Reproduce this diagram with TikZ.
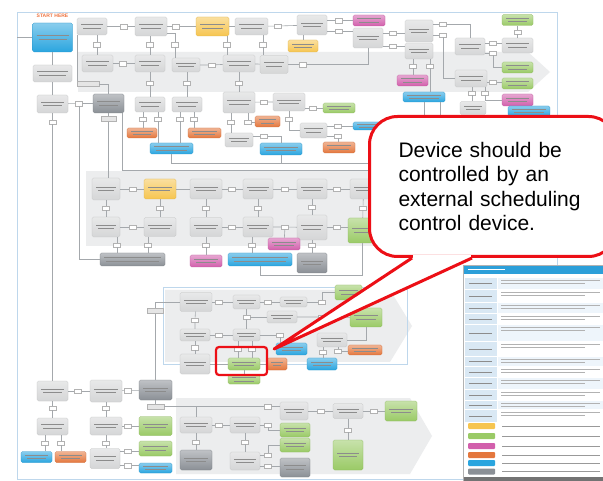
\documentclass[tikz,border=0pt]{standalone}
\usepackage{fontspec}
\newfontfamily\notefont{Liberation Sans}
\usetikzlibrary{arrows.meta, positioning, calc}
\definecolor{gbox}{HTML}{D5D6D7}
\definecolor{dbox}{HTML}{8B9096}
\definecolor{bbox}{HTML}{2AA5DF}
\definecolor{obox}{HTML}{E4773D}
\definecolor{ybox}{HTML}{F6C550}
\definecolor{vbox}{HTML}{9ACA66}
\definecolor{pbox}{HTML}{D25FAC}
\definecolor{bandgray}{HTML}{ECEDEE}
\definecolor{wiregray}{HTML}{A4A8AC}
\definecolor{frameblue}{HTML}{BED7EC}
\definecolor{notered}{HTML}{EC0F16}
\definecolor{startorange}{HTML}{EF7440}
\definecolor{tabhead}{HTML}{2C9FD9}
\definecolor{tabsoft}{HTML}{D9E8F4}
\definecolor{tabpale}{HTML}{EEF5FB}
\tikzset{
  >=Latex,
  bx/.style={
    rounded corners=1.5pt, top color=#1!55!white, bottom color=#1,
    draw=#1!90!black, line width=0.25pt, inner sep=0pt,
    path picture={
      \draw[black!45, line width=0.8pt]
        ([xshift=4pt,yshift=1.8pt]path picture bounding box.west) -- ([xshift=-4pt,yshift=1.8pt]path picture bounding box.east)
        ([xshift=6pt,yshift=-1.8pt]path picture bounding box.west) -- ([xshift=-6pt,yshift=-1.8pt]path picture bounding box.east);
    }
  },
  bx/.default=gbox,
  wh/.style 2 args={minimum width=#1pt, minimum height=#2pt},
  tg/.style={draw=black!30, fill=white, inner sep=0pt, line width=0.3pt,
    minimum width=7pt, minimum height=4.5pt},
  lbl/.style={draw=black!30, fill=black!10, inner sep=0pt, line width=0.3pt, minimum height=5pt},
  wire/.style={draw=wiregray, line width=0.6pt},
  hilite/.style={draw=notered, line width=2.2pt, rounded corners=3pt, inner sep=0pt},
  note/.style={draw=notered, fill=white, line width=3pt, rounded corners=28pt,
    inner xsep=29pt, text width=189pt, minimum height=140pt, align=left,
    font=\notefont\fontsize{21}{24.5}\selectfont},
  pointer/.style={draw=notered, line width=3pt, line join=round}
}
\begin{document}
\begin{tikzpicture}[x=1pt, y=-1pt]
  \useasboundingbox (0,0) rectangle (603,481);
  \fill[white] (0,0) rectangle (603,481);

  % bands behind the flow rows
  \fill[bandgray] (78,52) -- (528,52) -- (550,72) -- (528,92) -- (78,92) -- cycle;
  \fill[bandgray] (86,171) rectangle (400,246);
  \fill[bandgray] (165,290) -- (390,290) -- (412,326) -- (390,362) -- (165,362) -- cycle;
  \draw[frameblue, line width=0.5pt] (163,287) rectangle (407,364);
  \fill[bandgray] (176,398) -- (410,398) -- (432,436) -- (410,474) -- (176,474) -- cycle;
  \draw[frameblue, line width=0.6pt] (17,12) rectangle (557,479);

  % top row
  \node[text=startorange, font=\notefont\bfseries\fontsize{5}{6}\selectfont] (starthere) at (52.5,16) {START HERE};
  \node[bx=bbox, wh={40}{29}] (start) at (52.5,37.5) {};
  \node[bx, wh={30}{17}] (a2) at (92,26.5) {};
  \node[bx, wh={32}{19}] (a3) at (151,26.5) {};
  \node[bx=ybox, wh={33}{19}] (a4) at (212.5,26.5) {};
  \node[bx, wh={33}{17}] (a5) at (251.5,26.5) {};
  \node[bx, wh={30}{20}] (a6) at (312,25) {};
  \node[bx=pbox, wh={32}{11}] (a7) at (369,20.5) {};
  \node[bx, wh={30}{20}] (a8) at (368,38) {};
  \node[bx, wh={28}{22}] (a9) at (419,31) {};
  \node[bx, wh={28}{16}] (a10) at (419,51) {};
  \node[bx=vbox, wh={31}{11}] (a11) at (517.5,20) {};
  \node[bx, wh={30}{17}] (a12) at (470,46.5) {};
  \node[bx, wh={31}{15}] (a13) at (517.5,45.5) {};
  \node[bx=vbox, wh={31}{11}] (a14) at (517.5,67.5) {};
  \node[bx=pbox, wh={31}{11}] (a15) at (412.5,80.5) {};
  \node[bx=bbox, wh={42}{10}] (a16) at (424,97) {};
  \node[bx, wh={32}{17}] (a17) at (471,78.5) {};
  \node[bx=vbox, wh={31}{11}] (a18) at (517.5,83.5) {};
  \node[bx=pbox, wh={31}{12}] (a19) at (517.5,100) {};
  \node[bx, wh={26}{13}] (a20) at (473,108) {};
  \node[bx=bbox, wh={42}{10}] (a21) at (529,111) {};
  \node[tg] (t1) at (124,26.5) {};  \node[tg] (t2) at (176,26.5) {};
  \node[tg] (t3) at (278,26) {};    \node[tg] (t4) at (339,20.5) {};
  \node[tg] (t5) at (339,31) {};    \node[tg] (t6) at (393,33) {};
  \node[tg] (t7) at (393,46) {};    \node[tg] (t8) at (443,24) {};
  \node[tg] (t9) at (443,35) {};    \node[tg] (t10) at (517.5,32) {};
  \node[tg] (t11) at (493,43) {};   \node[tg] (t12) at (493,53) {};
  \node[tg] (t13) at (413,66) {};   \node[tg] (t14) at (430,66) {};
  \node[tg] (t16) at (493,82) {};   \node[tg] (t17) at (472,93) {};
  \node[tg] (t18) at (485,93) {};

  % second row
  \node[bx, wh={31}{17}] (b1) at (97.5,63.5) {};
  \node[bx, wh={30}{17}] (b2) at (150,63.5) {};
  \node[bx, wh={28}{14}] (b3) at (186,65) {};
  \node[bx, wh={32}{17}] (b4) at (239,63.5) {};
  \node[bx, wh={28}{18}] (b5) at (274,64.5) {};
  \node[bx=ybox, wh={30}{12}] (b6) at (303,46) {};
  \node[tg] (s1) at (97,44.5) {};   \node[tg] (s4) at (150,44.5) {};
  \node[tg] (s5) at (175,44.5) {};  \node[tg] (s6) at (227,44.5) {};
  \node[tg] (s7) at (263,44.5) {};  \node[tg] (r1) at (123,63.5) {};
  \node[tg] (r2) at (212,65) {};    \node[tg] (r3) at (303,64.5) {};

  % left column
  \node[bx, wh={39}{17}] (c1) at (52.5,73.5) {};
  \node[bx, wh={31}{18}] (c2) at (52.5,104) {};
  \node[bx=dbox, wh={31}{19}] (c3) at (108.5,103.5) {};
  \node[lbl, minimum width=22pt] (lb1) at (88,84) {};
  \node[lbl, minimum width=15pt] (lb2) at (108.5,119) {};
  \node[tg] (u1) at (79,103.5) {};  \node[tg] (u2) at (52.5,122) {};
  \coordinate (lf) at (17,37.5);

  % middle block
  \node[bx, wh={30}{15}] (d1) at (150,104.5) {};
  \node[bx, wh={30}{15}] (d2) at (187,104.5) {};
  \node[bx, wh={32}{21}] (d3) at (239,102.5) {};
  \node[bx, wh={32}{18}] (d4) at (289,102) {};
  \node[bx=obox, wh={30}{10}] (d5) at (142,133) {};
  \node[bx=obox, wh={33}{10}] (d6) at (204.5,133) {};
  \node[bx=bbox, wh={43}{11}] (d7) at (171.5,148.5) {};
  \node[bx=obox, wh={25}{11}] (d8) at (267.5,121.5) {};
  \node[bx, wh={28}{14}] (d9) at (239,140) {};
  \node[bx=bbox, wh={42}{12}] (d10) at (281,149) {};
  \node[bx=vbox, wh={32}{10}] (d11) at (339,108) {};
  \node[bx, wh={27}{15}] (d12) at (313.5,130.5) {};
  \node[bx=bbox, wh={32}{8}] (d13) at (369,126) {};
  \node[bx=obox, wh={32}{11}] (d14) at (339,147.5) {};
  \node[tg] (v1) at (150,83) {};    \node[tg] (v2) at (187,83) {};
  \node[tg] (v3) at (239,83) {};    \node[tg] (v4) at (264,102) {};
  \node[tg] (w1) at (143,119) {};   \node[tg] (w2) at (158,119) {};
  \node[tg] (w3) at (180,119) {};   \node[tg] (w4) at (194,119) {};
  \node[tg] (w5) at (231,122) {};   \node[tg] (w6) at (248,122) {};
  \node[tg] (w7) at (264,136) {};   \node[tg] (x1) at (313,108) {};
  \node[tg] (x2) at (289,119) {};   \node[tg] (x3) at (338,126) {};
  \node[tg] (x4) at (338,136) {};
  \coordinate (j1) at (424,163);
  \coordinate (j2) at (440,170);

  % third row
  \node[bx, wh={28}{22}] (e1) at (106,189) {};
  \node[bx=ybox, wh={32}{20}] (e2) at (160,189) {};
  \node[bx, wh={32}{20}] (e3) at (206,189) {};
  \node[bx, wh={30}{20}] (e4) at (258,189) {};
  \node[bx, wh={30}{20}] (e5) at (312,189) {};
  \node[bx, wh={27}{20}] (e6) at (363.5,189) {};
  \node[bx, wh={28}{20}] (f1) at (106,227) {};
  \node[bx, wh={32}{19}] (f2) at (160,227) {};
  \node[bx, wh={32}{19}] (f3) at (206,227) {};
  \node[bx, wh={30}{20}] (f4) at (258,227) {};
  \node[bx, wh={30}{25}] (f5) at (312,227.5) {};
  \node[bx=vbox, wh={29}{25}] (f6) at (362.5,230.5) {};
  \node[bx=dbox, wh={65}{13}] (f7) at (132.5,259.5) {};
  \node[bx=pbox, wh={32}{12}] (f8) at (206,261) {};
  \node[bx=bbox, wh={64}{13}] (f9) at (260,259.5) {};
  \node[bx=pbox, wh={32}{12}] (f10) at (284,244) {};
  \node[bx=dbox, wh={30}{20}] (f11) at (312,263) {};
  \node[tg] (y1) at (133,189) {};   \node[tg] (y2) at (232,189) {};
  \node[tg] (y3) at (285,189) {};   \node[tg] (y4) at (337,189) {};
  \node[tg] (z1) at (106,208) {};   \node[tg] (z2) at (160,208) {};
  \node[tg] (z3) at (206,208) {};   \node[tg] (z4) at (258,208) {};
  \node[tg] (z5) at (312,207) {};   \node[tg] (z6) at (363,208) {};
  \node[tg] (y5) at (133,227) {};   \node[tg] (y6) at (232,227) {};
  \node[tg] (y7) at (285,227) {};   \node[tg] (y8) at (337,227) {};
  \node[tg] (z7) at (117,245) {};   \node[tg] (z8) at (148,245) {};
  \node[tg] (z9) at (206,245) {};   \node[tg] (z10) at (252,245) {};
  \node[tg] (z11) at (312,245) {};
  \coordinate (j3) at (362.5,275);

  % fourth block
  \node[lbl, minimum width=16pt] (g0) at (155.5,311) {};
  \node[bx, wh={32}{19}] (g1) at (196,302) {};
  \node[bx, wh={27}{14}] (g2) at (246.5,302) {};
  \node[bx, wh={27}{10}] (g3) at (293.5,302) {};
  \node[bx=vbox, wh={27}{15}] (g4) at (348.5,292.5) {};
  \node[bx, wh={30}{12}] (g5) at (282,317) {};
  \node[bx=vbox, wh={32}{19}] (g6) at (366,317.5) {};
  \node[bx, wh={30}{12}] (g7) at (195,335) {};
  \node[bx, wh={27}{12}] (g8) at (246.5,335) {};
  \node[bx, wh={30}{20}] (g9) at (195,364) {};
  \node[bx=vbox, wh={32}{12}] (g10) at (244,364) {};
  \node[bx=vbox, wh={32}{9}] (g11) at (244,379.5) {};
  \node[bx=obox, wh={20}{12}] (g12) at (277,364) {};
  \node[bx=bbox, wh={31}{12}] (g13) at (291.5,349) {};
  \node[bx, wh={30}{14}] (g14) at (332,340) {};
  \node[bx=obox, wh={34}{10}] (g15) at (365,350) {};
  \node[bx=bbox, wh={30}{12}] (g16) at (322,364) {};
  \node[tg] (k1) at (219,302) {};   \node[tg] (k2) at (268,302) {};
  \node[tg] (k3) at (322,302) {};   \node[tg] (k5) at (195,320) {};
  \node[tg] (k6) at (246.5,317) {}; \node[tg] (k7) at (322,317) {};
  \node[tg] (k8) at (219,335) {};   \node[tg] (k9) at (280,335) {};
  \node[tg] (k10) at (195,347.5) {};
  \node[tg] (m1) at (238,349) {};   \node[tg] (m2) at (252,349) {};
  \node[tg] (n1) at (323,352) {};   \node[tg] (n2) at (338,351) {};

  % bottom block
  \node[bx, wh={31}{20}] (h1) at (52.5,391) {};
  \node[bx, wh={32}{22}] (h2) at (106,391) {};
  \node[bx=dbox, wh={33}{20}] (h3) at (155.5,390) {};
  \node[lbl, minimum width=17pt] (lb3) at (155.5,406.5) {};
  \node[bx, wh={31}{17}] (h4) at (52.5,426.5) {};
  \node[bx, wh={32}{18}] (h5) at (106,426) {};
  \node[bx=vbox, wh={33}{19}] (h6) at (155.5,426) {};
  \node[bx=bbox, wh={31}{11}] (h7) at (36.5,457) {};
  \node[bx=obox, wh={31}{11}] (h8) at (70.5,457) {};
  \node[bx, wh={30}{20}] (h9) at (105,458.5) {};
  \node[bx=vbox, wh={33}{15}] (h10) at (155.5,448.5) {};
  \node[bx=bbox, wh={33}{10}] (h11) at (155.5,468) {};
  \node[tg] (p1) at (78,391) {};    \node[tg] (p2) at (128,390.5) {};
  \node[tg] (p3) at (52.5,408) {};  \node[tg] (p4) at (106,408) {};
  \node[tg] (p5) at (128,426) {};   \node[tg] (p6) at (45,443) {};
  \node[tg] (p7) at (61,443) {};    \node[tg] (p8) at (106,443) {};
  \node[tg] (p9) at (128,451) {};   \node[tg] (p10) at (128,465.5) {};
  \node[bx, wh={32}{16}] (i1) at (196,425) {};
  \node[bx, wh={30}{16}] (i2) at (245,425) {};
  \node[bx=dbox, wh={32}{20}] (i3) at (196,460) {};
  \node[bx, wh={30}{18}] (i4) at (245,461) {};
  \node[bx, wh={28}{18}] (i5) at (294,411) {};
  \node[bx, wh={30}{15}] (i6) at (348,411) {};
  \node[bx=vbox, wh={32}{20}] (i7) at (401,411) {};
  \node[bx=vbox, wh={30}{14}] (i8) at (295,430) {};
  \node[bx=vbox, wh={30}{14}] (i9) at (295,445) {};
  \node[bx=dbox, wh={30}{19}] (i10) at (295,467.5) {};
  \node[bx=vbox, wh={30}{30}] (i11) at (348,455) {};
  \node[tg] (q1) at (268,406.5) {}; \node[tg] (q2) at (219,425) {};
  \node[tg] (q3) at (196,442) {};   \node[tg] (q4) at (245,442) {};
  \node[tg] (q5) at (268,425) {};   \node[tg] (q6) at (268,455) {};
  \node[tg] (q7) at (268,466) {};   \node[tg] (q8) at (321,411) {};
  \node[tg] (q9) at (374,411) {};   \node[tg] (q10) at (348,430) {};

  % connectors
  \draw[wire] (start) -- (lf);
  \draw[wire] (a2) -- (t1) -- (a3);  \draw[wire] (a3) -- (t2) -- (a4);
  \draw[wire] (a4) -- (a5);          \draw[wire] (a5) -- (t3) -- (a6);
  \draw[wire] (a6.east |- t4) -- (t4) -- (a7.west |- t4);
  \draw[wire] (a6.east |- t5) -- (t5) -- (a8.west |- t5);
  \draw[wire] (a8.east |- t6) -- (t6) -- (a9.west |- t6);
  \draw[wire] (a8.east |- t7) -- (t7) -- (a10.west |- t7);
  \draw[wire] (a9.east |- t8) -- (t8) -| (a12);
  \draw[wire] (a9.east |- t9) -- (t9) |- (a17);
  \draw[wire] (a12.east |- t11) -- (t11) -- (a13.west |- t11);
  \draw[wire] (a12.east |- t12) -- (t12) |- (a14);
  \draw[wire] (a13) -- (t10) -- (a11);
  \draw[wire] (a10.south -| t13) -- (t13) -- (a15.north -| t13);
  \draw[wire] (a10.south -| t14) -- (t14) -- (a16.north -| t14);
  \draw[wire] (a17.east |- t16) -- (t16) -- (a18.west |- t16);
  \draw[wire] (a17.south -| t17) -- (t17) -- (a20.north -| t17);
  \draw[wire] (a17.south -| t18) -- (t18) |- (a19);

  \draw[wire] (a2.south -| s1) -- (s1) -- (b1.north -| s1);
  \draw[wire] (a3.south -| s4) -- (s4) -- (b2);
  \draw[wire] ([yshift=3pt]a3.south east) -| (s5) -- (b3.north -| s5);
  \draw[wire] (a4.south -| s6) -- (s6) -- (b4.north -| s6);
  \draw[wire] (a5.south -| s7) -- (s7) -- (b5.north -| s7);
  \draw[wire] (a6.south -| b6) -- (b6);
  \draw[wire] (b1) -- (r1) -- (b2);  \draw[wire] (b3) -- (r2) -- (b4);
  \draw[wire] (b4) -- (b5);          \draw[wire] (b5) -- (r3) -| (a8);

  \draw[wire] (start) -- (c1);  \draw[wire] (c1) -- (c2);
  \draw[wire] (c2) -- (u1) -- (c3);
  \draw[wire] (c2) -- (u2) -- (h1);
  \draw[wire] (lb1.north west) -- (lb1.north west |- a2.south);
  \draw[wire] (lb1) -| (c3);
  \draw[wire] (c3) -- (lb2) -- (e1.north -| lb2);
  \draw[wire] (u1) |- (f7);

  \draw[wire] (b2) -- (v1) -- (d1);
  \draw[wire] (b3.south -| v2) -- (v2) -- (d2);
  \draw[wire] (b4) -- (v3) -- (d3);
  \draw[wire] (d3) -- (v4) -- (d4);
  \draw[wire] (d1.south -| w1) -- (w1) -- (d5.north -| w1);
  \draw[wire] (d1.south -| w2) -- (w2) -- (d7.north -| w2);
  \draw[wire] (d2.south -| w3) -- (w3) -- (d7.north -| w3);
  \draw[wire] (d2.south -| w4) -- (w4) -- (d6.north -| w4);
  \draw[wire] (d3.south -| w5) -- (w5) -- (d9.north -| w5);
  \draw[wire] (d3.south -| w6) -- (w6) -- (d8.west |- w6);
  \draw[wire] (d9.east |- w7) -- (w7) -| (d10);
  \draw[wire] (d4.east |- x1) -- (x1) -- (d11);
  \draw[wire] (d4.south -| x2) -- (x2) |- (d12);
  \draw[wire] (d12.east |- x3) -- (x3) -- (d13.west |- x3);
  \draw[wire] (d12.east |- x4) -- (x4) -- (d14.north -| x4);
  \draw[wire] (d7) |- (j1) -- (a16);
  \draw[wire] (d10) -- (d10 |- j1);
  \draw[wire] ([xshift=-2pt]c3.south east) |- (j2) -- (a16.south -| j2);

  \draw[wire] (e1) -- (y1) -- (e2);  \draw[wire] (e2) -- (e3);
  \draw[wire] (e3) -- (y2) -- (e4);  \draw[wire] (e4) -- (y3) -- (e5);
  \draw[wire] (e5) -- (y4) -- (e6);
  \foreach \p/\q/\u in {e1/z1/f1, e2/z2/f2, e3/z3/f3, e4/z4/f4, e5/z5/f5, e6/z6/f6}
    \draw[wire] (\p) -- (\q) -- (\u);
  \draw[wire] (f1) -- (y5) -- (f2);  \draw[wire] (f3) -- (y6) -- (f4);
  \draw[wire] (f4) -- (y7) -- (f5);  \draw[wire] (y7) -- (f10);
  \draw[wire] (f5.east |- y8) -- (y8) -- (f6.west |- y8);
  \draw[wire] (f1.south -| z7) -- (z7) -- (f7.north -| z7);
  \draw[wire] (f2.south -| z8) -- (z8) -- (f7.north -| z8);
  \draw[wire] (f3) -- (z9) -- (f8);
  \draw[wire] (f4.south -| z10) -- (z10) -- (f9.north -| z10);
  \draw[wire] (f5) -- (z11) -- (f11);
  \draw[wire] (f9) |- (j3) -- (f6);

  \draw[wire] (g0) |- (g1);
  \draw[wire] (g0) -- (h3.north -| g0);
  \draw[wire] (g1) -- (k1) -- (g2);  \draw[wire] (g2) -- (k2) -- (g3);
  \draw[wire] (g3) -- (k3) |- (g4);
  \draw[wire] (g1) -- (k5) -- (g7);  \draw[wire] (g2) -- (k6) -- (g8);
  \draw[wire] (k6) -- (g5);          \draw[wire] (g5) -- (k7) -- (g6);
  \draw[wire] (g7) -- (k8) -- (g8);
  \draw[wire] (g8) -- (k9) -- (g13.north -| k9);
  \draw[wire] (g7) -- (k10) -- (g9);
  \draw[wire] (g8.south -| m1) -- (m1) -- (g10.north -| m1);
  \draw[wire] (g8.south -| m2) -- (m2) -- (g10.north -| m2);
  \draw[wire] (g9) -- (g10);  \draw[wire] (g10) -- (g11);  \draw[wire] (g10) -- (g12);
  \draw[wire] (g6) |- (g14);
  \draw[wire] (g14.south -| n1) -- (n1) -- (g16.north -| n1);
  \draw[wire] (g14.south -| n2) -- (n2) -- (g15.west |- n2);

  \draw[wire] (h1) -- (p1) -- (h2);  \draw[wire] (h2) -- (p2) -- (h3);
  \draw[wire] (h1) -- (p3) -- (h4);  \draw[wire] (h2) -- (p4) -- (h5);
  \draw[wire] (h5) -- (p5) -- (h6);
  \draw[wire] (h4.south -| p6) -- (p6) -- (h7.north -| p6);
  \draw[wire] (h4.south -| p7) -- (p7) -- (h8.north -| p7);
  \draw[wire] (h5.south -| p8) -- (p8) -- (h9.north -| p8);
  \draw[wire] (h9.east |- p9) -- (p9) -- (h10.west |- p9);
  \draw[wire] (h9.east |- p10) -- (p10) -- (h11.west |- p10);
  \draw[wire] (h3) -- (lb3);
  \draw[wire] (lb3) -| (i1);
  \draw[wire] (lb3) -- (q1) -- (i5.west |- q1);
  \draw[wire] (i1) -- (q2) -- (i2);  \draw[wire] (i1) -- (q3) -- (i3);
  \draw[wire] (i2) -- (q4) -- (i4);  \draw[wire] (i2) -- (q5) |- (i8);
  \draw[wire] (i4.east |- q6) -- (q6) |- (i9);
  \draw[wire] (i4.east |- q7) -- (q7) -- (i10.west |- q7);
  \draw[wire] (i5) -- (q8) -- (i6);  \draw[wire] (i6) -- (q9) -- (i7);
  \draw[wire] (i6) -- (q10) -- (i11);

  \node[hilite, wh={51}{28}] (focus) at (241.5,361) {};

  % legend table
  \fill[white] (463,265) rectangle (612,484);
  \fill[tabhead] (463,265) rectangle (612,274);
  \draw[white, line width=0.8pt] (468,269.5) -- (505,269.5);
  \foreach \ya/\yb [count=\r] in {278/289, 290/302, 303/313, 314/324, 325/341, 342/356,
      357/366, 367/377, 378/389, 390/400, 401/409, 410/422} {
    \ifodd\r \fill[tabpale] (498,\ya) rectangle (612,\yb); \fi
    \fill[tabsoft] (465,\ya) rectangle (497,\yb);
    \draw[black!45, line width=0.6pt] (469,{(\ya+\yb)/2}) -- (492,{(\ya+\yb)/2});
    \draw[black!30, line width=0.5pt] (501,\ya+2.5) -- (600,\ya+2.5) (501,\ya+5.5) -- (585,\ya+5.5);
  }
  \foreach \yc/\sw in {426/ybox, 436/vbox, 446/pbox, 455/obox, 463/bbox, 471.5/dbox} {
    \fill[\sw, rounded corners=1pt] (468,\yc-3) rectangle (495,\yc+3);
    \draw[black!40, line width=0.5pt] (502,\yc) -- (600,\yc);
  }
  \fill[black!55] (463,477) rectangle (612,484);
  \draw[black!30, line width=0.4pt] (463,265) rectangle (612,484);

  % callout
  \node[note, anchor=north west] (note) at (368,115)
    {Device should be\\controlled by an\\external scheduling\\control device.};
  \coordinate (tip) at ([xshift=6pt,yshift=12pt]focus.east);
  \fill[white] ([xshift=44pt]note.south west) -- (tip) -- ([xshift=104pt]note.south west) -- cycle;
  \fill[white] ([xshift=45pt,yshift=-2pt]note.south west) rectangle ([xshift=103pt,yshift=3pt]note.south west);
  \draw[pointer] ([xshift=44pt]note.south west) -- (tip) -- ([xshift=104pt]note.south west);
\end{tikzpicture}
\end{document}
